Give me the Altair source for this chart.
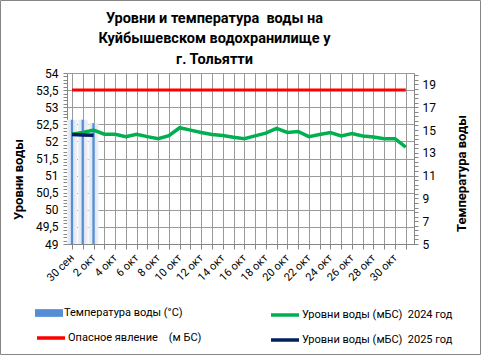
import json
import altair as alt
import pandas as pd

# ---------------- data ----------------
dates = ["30 сен", "1 окт", "2 окт", "3 окт", "4 окт", "5 окт", "6 окт", "7 окт",
         "8 окт", "9 окт", "10 окт", "11 окт", "12 окт", "13 окт", "14 окт", "15 окт",
         "16 окт", "17 окт", "18 окт", "19 окт", "20 окт", "21 окт", "22 окт", "23 окт",
         "24 окт", "25 окт", "26 окт", "27 окт", "28 окт", "29 окт", "30 окт", "31 окт"]
level_2024 = [52.21, 52.26, 52.33, 52.21, 52.21, 52.14, 52.21, 52.14, 52.08, 52.17,
              52.40, 52.33, 52.26, 52.20, 52.17, 52.12, 52.08, 52.16, 52.24, 52.38,
              52.26, 52.29, 52.14, 52.20, 52.26, 52.16, 52.23, 52.16, 52.13, 52.08,
              52.08, 51.83]
level_2025 = [52.20, 52.19, 52.18]
temperature = [15.9, 15.9, 15.6]
danger_level = 53.5

name_temp = "Температура воды (°C)"
name_danger = "Опасное явление\u00a0\u00a0\u00a0\u00a0(м\u00a0БС)"
name_2024 = "Уровни воды (мБС)\u00a0 2024 год"
name_2025 = "Уровни воды (мБС)\u00a0 2025 год"

df24 = pd.DataFrame({"i": range(len(level_2024)), "v": level_2024, "s": name_2024})
df25 = pd.DataFrame({"i": range(len(level_2025)), "v": level_2025, "s": name_2025})
dfd = pd.DataFrame({"i": range(len(dates)), "v": [danger_level] * len(dates), "s": name_danger})
dft = pd.DataFrame({"i": range(len(temperature)), "t": temperature, "s": name_temp})

FONT = "Roboto"
AX = "#868686"
GRID = "#9a9a9a"

# ---------------- x axis ----------------
arr = json.dumps(dates, ensure_ascii=False)
x_enc = alt.X(
    "i:Q",
    scale=alt.Scale(domain=[0, 31.3], nice=False, zero=False),
    axis=alt.Axis(
        values=list(range(len(dates))),
        labelExpr=f"datum.value % 2 == 0 ? {arr}[datum.value] : ''",
        labelAngle=315, labelAlign="right", labelBaseline="middle",
        labelPadding=7, tickSize=5, labelOverlap=False, labelFlush=False,
        grid=True, gridColor=GRID, domainColor=AX, tickColor=AX,
        labelFont=FONT, labelFontSize=11, labelColor="#000000", title=None,
    ),
)

# ---------------- left (level) axis ----------------
lvl_vals = [round(49 + 0.1 * k, 1) for k in range(51)]
major_l = "abs(datum.value*2 - round(datum.value*2)) < 0.001"
y_lvl_axis = alt.Axis(
    orient="left", values=lvl_vals,
    labelExpr=f"{major_l} ? replace(format(datum.value, '.1~f'), '.', ',') : ''",
    gridOpacity={"condition": {"test": major_l, "value": 1}, "value": 0},
    grid=True, gridColor=GRID, tickSize=4, labelPadding=5,
    labelOverlap=False, labelFlush=False,
    domainColor=AX, tickColor=AX, labelFont=FONT, labelFontSize=12, labelColor="#000000",
    title="Уровни воды", titleFont=FONT, titleFontSize=13, titleFontWeight="bold",
    titleColor="#000000", titleAngle=270, titleX=-49, titleY=106,
    titleAlign="center", titleBaseline="middle",
)
y_lvl_scale = alt.Scale(domain=[49, 54], nice=False, zero=False)

# ---------------- right (temperature) axis ----------------
t_vals = [round(5 + 0.4 * k, 1) for k in range(38)]
major_t = "abs((datum.value-5)/2 - round((datum.value-5)/2)) < 0.001"
y_t_axis = alt.Axis(
    orient="right", values=t_vals,
    labelExpr=f"{major_t} ? format(datum.value, 'd') : ''",
    grid=False, tickSize=4, labelPadding=4, labelOverlap=False, labelFlush=False,
    domainColor=AX, tickColor=AX, labelFont=FONT, labelFontSize=12, labelColor="#000000",
    title="Температура воды", titleFont=FONT, titleFontSize=13, titleFontWeight="bold",
    titleColor="#000000", titleAngle=270, titleX=47, titleY=100,
    titleAlign="center", titleBaseline="middle",
)
y_t_scale = alt.Scale(domain=[5, 20], nice=False, zero=False)

# ---------------- legends ----------------
RECT_PATH = "M-2,-0.55L2,-0.55L2,0.55L-2,0.55Z"
LINE_PATH = "M-2,0L2,0"
leg_common = dict(
    orient="none", title=None, padding=0, symbolSize=196, labelOffset=8,
    labelFont=FONT, labelFontSize=11, labelColor="#000000", labelLimit=300,
)

temp_leg = alt.Legend(legendX=-25, legendY=233, symbolType=RECT_PATH,
                      symbolStrokeWidth=0, **leg_common)
danger_leg = alt.Legend(legendX=-25, legendY=256, symbolType=LINE_PATH,
                        symbolStrokeWidth=3.5, symbolStrokeColor="#FF0000", **leg_common)
lvl_leg = alt.Legend(legendX=209, legendY=233, symbolType=LINE_PATH, direction="vertical",
                     rowPadding=9, symbolStrokeWidth=3.5, **leg_common)

stroke_scale = alt.Scale(domain=[name_2024, name_2025], range=["#00B050", "#002060"])

# ---------------- temperature bars ----------------
halo = alt.Gradient(
    gradient="linear", x1=0, x2=1, y1=0, y2=0,
    stops=[
        alt.GradientStop(offset=0, color="#F2F2F2"),
        alt.GradientStop(offset=0.35, color="#DCE6F5"),
        alt.GradientStop(offset=0.5, color="#AFC7EC"),
        alt.GradientStop(offset=0.65, color="#DCE6F5"),
        alt.GradientStop(offset=1, color="#F2F2F2"),
    ],
)
bars_halo = alt.Chart(dft).mark_bar(color=halo, size=10).encode(
    x=x_enc, y=alt.Y("t:Q", scale=y_t_scale, axis=y_t_axis), y2=alt.datum(5),
)
bars_core = alt.Chart(dft).mark_bar(size=2.2).encode(
    x=x_enc, y=alt.Y("t:Q", scale=y_t_scale, axis=y_t_axis), y2=alt.datum(5),
    fill=alt.Fill("s:N", scale=alt.Scale(domain=[name_temp], range=["#558ED5"]), legend=temp_leg),
)
bars = alt.layer(bars_halo, bars_core)

# ---------------- level lines ----------------
y_lvl = alt.Y("v:Q", scale=y_lvl_scale, axis=y_lvl_axis)
danger = alt.Chart(dfd).mark_line(color="#FF0000", strokeWidth=3).encode(
    x=x_enc, y=y_lvl,
    strokeDash=alt.StrokeDash("s:N", scale=alt.Scale(domain=[name_danger], range=[[1, 0]]),
                              legend=danger_leg),
)
line24 = alt.Chart(df24).mark_line(strokeWidth=3.5).encode(
    x=x_enc, y=y_lvl, stroke=alt.Stroke("s:N", scale=stroke_scale, legend=lvl_leg),
)
line25 = alt.Chart(df25).mark_line(strokeWidth=3.5).encode(
    x=x_enc, y=y_lvl, stroke=alt.Stroke("s:N", scale=stroke_scale, legend=lvl_leg),
)
frame = alt.Chart(dfd.head(1)).mark_rect(fill=None, stroke="#868686", strokeWidth=1).encode(
    x=alt.value(-66.5), x2=alt.value(413.5), y=alt.value(-72.5), y2=alt.value(281.5),
)
lines = alt.layer(danger, line24, line25, frame)

chart = alt.layer(bars, lines).resolve_scale(
    y="independent", fill="independent", stroke="independent", strokeDash="independent"
).properties(
    width=347, height=171,
    autosize=alt.AutoSizeParams(type="none"),
    padding={"left": 67, "top": 73, "right": 67, "bottom": 111},
    title=alt.TitleParams(
        text=["Уровни и температура\u00a0 воды на", "Куйбышевском водохранилище у", "г. Тольятти"],
        font=FONT, fontSize=14.5, fontWeight="bold", color="#000000",
        anchor="middle", dx=-26, offset=-67, lineHeight=20.5,
    ),
).configure_view(
    stroke=None, fill="#F2F2F2"
).configure(background="white")

chart.save("out.html", embed_options={"renderer": "svg", "actions": False})
